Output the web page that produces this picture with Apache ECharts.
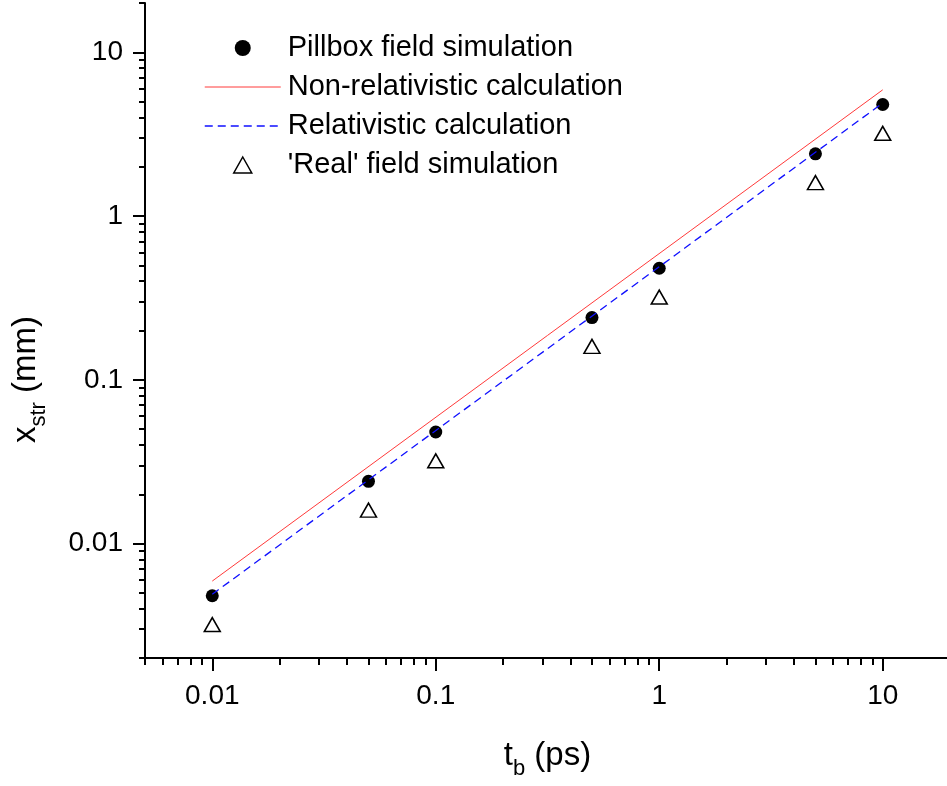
<!DOCTYPE html>
<html>
<head>
<meta charset="utf-8">
<script src="https://cdn.jsdelivr.net/npm/echarts@6/dist/echarts.min.js"></script>
<style>
  html, body { margin: 0; padding: 0; background: #fff; overflow: hidden; }
  #chart { width: 947px; height: 786px; }
</style>
</head>
<body>
<div id="chart"></div>
<script>
// Bunch length t_b (ps) for each simulated case
const tb = [0.01, 0.05, 0.1, 0.5, 1, 5, 10];
// Streak x_str (mm)
const pillbox = [0.0048, 0.024, 0.048, 0.24, 0.48, 2.4, 4.8];
const realField = [0.0032, 0.016, 0.032, 0.16, 0.32, 1.6, 3.2];
// Analytical curves, evaluated at the ends of the range
const calcT = [0.01, 10];
const nonRel = [0.0059, 5.9];
const rel = [0.0049, 4.9];

// Axis ranges and decade labels
const xRange = [0.005, 20];
const yRange = [0.002, 20];
const xMajor = [0.01, 0.1, 1, 10];
const yMajor = [0.01, 0.1, 1, 10];

// Minor ticks at 2..9 times each decade, inside the range
function minorTicks(range) {
  const out = [];
  for (let e = -4; e <= 2; e++) {
    for (let m = 2; m <= 9; m++) {
      const v = +(m * Math.pow(10, e)).toPrecision(3);
      if (v >= range[0] - 1e-12 && v <= range[1] + 1e-12) out.push(v);
    }
  }
  return out;
}
const xMinor = minorTicks(xRange);
const yMinor = minorTicks(yRange);

const FONT = '"Liberation Sans", Arial, Helvetica, sans-serif';
const pairs = (xs, ys) => xs.map((x, i) => [x, ys[i]]);

const axisLine = { show: true, lineStyle: { color: '#000', width: 2 } };
const RED = '#ff3a3a';
const BLUE = '#1010ff';
// Open triangle centred in the full legend icon box, so it is not stretched
const LEGEND_TRIANGLE = 'path://M0,0M76,16M38,0L47,16L29,16Z';

const chart = echarts.init(document.getElementById('chart'), null, { renderer: 'canvas' });
chart.setOption({
  backgroundColor: '#fff',
  animation: false,
  textStyle: { fontFamily: FONT },
  grid: { left: 145, right: -3, top: 3, bottom: 128, containLabel: false, outerBoundsMode: 'none' },
  legend: {
    orient: 'vertical',
    left: 204,
    top: 33,
    padding: 0,
    itemWidth: 76,
    itemHeight: 16,
    itemGap: 9,
    textStyle: { fontFamily: FONT, fontSize: 29, color: '#000', lineHeight: 30, padding: [0, 0, 0, 2] },
    data: [
      { name: 'Pillbox field simulation', icon: 'circle', itemStyle: { color: '#000', opacity: 1 } },
      { name: 'Non-relativistic calculation', itemStyle: { opacity: 0 }, lineStyle: { color: RED, width: 1 } },
      { name: 'Relativistic calculation', itemStyle: { opacity: 0 }, lineStyle: { color: BLUE, width: 1.3, type: [8, 5] } },
      { name: "'Real' field simulation", icon: LEGEND_TRIANGLE, itemStyle: { color: '#fff', borderColor: '#000', borderWidth: 1.5, opacity: 1 } }
    ]
  },
  xAxis: [
    {
      type: 'log', logBase: 10, min: xRange[0], max: xRange[1], position: 'bottom',
      axisLine: axisLine,
      axisTick: { show: true, inside: false, length: 13, lineStyle: { color: '#000', width: 2 }, customValues: xMajor },
      axisLabel: {
        show: true, margin: 24, color: '#000', fontFamily: FONT, fontSize: 28,
        customValues: xMajor,
        formatter: v => String(+v.toPrecision(3))
      },
      splitLine: { show: false },
      name: '{m|t}{s|b}{m| (ps)}',
      nameLocation: 'middle',
      nameGap: 74,
      nameTextStyle: {
        rich: {
          m: { fontFamily: FONT, fontSize: 33, color: '#000', lineHeight: 48 },
          s: { fontFamily: FONT, fontSize: 22, color: '#000', lineHeight: 14, verticalAlign: 'bottom' }
        }
      }
    },
    {
      type: 'log', logBase: 10, min: xRange[0], max: xRange[1], position: 'bottom',
      axisLine: { show: false },
      axisTick: { show: true, inside: false, length: 7, lineStyle: { color: '#000', width: 2 }, customValues: xMinor },
      axisLabel: { show: false },
      splitLine: { show: false }
    }
  ],
  yAxis: [
    {
      type: 'log', logBase: 10, min: yRange[0], max: yRange[1], position: 'left',
      axisLine: axisLine,
      axisTick: { show: true, inside: false, length: 12, lineStyle: { color: '#000', width: 2 }, customValues: yMajor },
      axisLabel: {
        show: true, margin: 22, color: '#000', fontFamily: FONT, fontSize: 28,
        customValues: yMajor,
        formatter: v => String(+v.toPrecision(3))
      },
      splitLine: { show: false },
      name: '{m|x}{s|str}{m| (mm)}',
      nameLocation: 'middle',
      nameGap: 95,
      nameRotate: 90,
      nameTextStyle: {
        padding: [0, 98, 0, 0],
        rich: {
          m: { fontFamily: FONT, fontSize: 33, color: '#000', lineHeight: 48 },
          s: { fontFamily: FONT, fontSize: 22, color: '#000', lineHeight: 14, verticalAlign: 'bottom' }
        }
      }
    },
    {
      type: 'log', logBase: 10, min: yRange[0], max: yRange[1], position: 'left',
      axisLine: { show: false },
      axisTick: { show: true, inside: false, length: 6, lineStyle: { color: '#000', width: 2 }, customValues: yMinor },
      axisLabel: { show: false },
      splitLine: { show: false }
    }
  ],
  series: [
    {
      name: 'Pillbox field simulation',
      type: 'scatter',
      symbol: 'circle',
      symbolSize: 13,
      itemStyle: { color: '#000', opacity: 1 },
      data: pairs(tb, pillbox),
      z: 2
    },
    {
      name: "'Real' field simulation",
      type: 'scatter',
      symbol: 'triangle',
      symbolSize: [16, 14],
      itemStyle: { color: '#fff', borderColor: '#000', borderWidth: 1.5, opacity: 1 },
      data: pairs(tb, realField),
      z: 2
    },
    {
      name: 'Non-relativistic calculation',
      type: 'line',
      symbol: 'none',
      lineStyle: { color: RED, width: 1 },
      itemStyle: { color: RED },
      data: pairs(calcT, nonRel),
      z: 3
    },
    {
      name: 'Relativistic calculation',
      type: 'line',
      symbol: 'none',
      lineStyle: { color: BLUE, width: 1.3, type: [8, 5] },
      itemStyle: { color: BLUE },
      data: pairs(calcT, rel),
      z: 3
    }
  ]
});
</script>
</body>
</html>
